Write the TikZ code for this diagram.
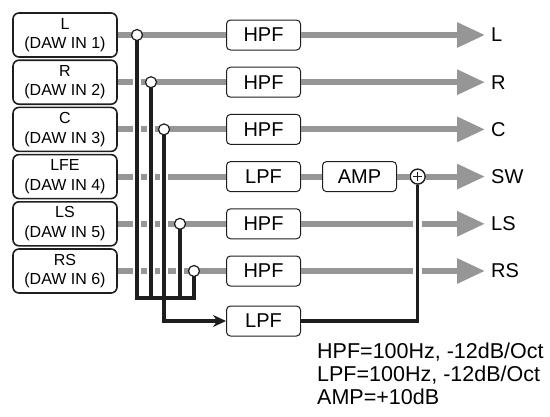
\documentclass[tikz,border=0pt]{standalone}
\usepackage{fontspec}
\setmainfont{Liberation Sans}
\usetikzlibrary{arrows.meta, positioning}
\definecolor{siggray}{RGB}{150,150,150}
\definecolor{busblack}{RGB}{30,30,30}

\begin{document}
\begin{tikzpicture}[x=1pt, y=-1pt,
    inbox/.style={draw=busblack, line width=1.6pt, rounded corners=6pt, minimum width=104pt,
      minimum height=44pt, inner sep=0pt, align=center, font=\fontsize{16}{19.5}\selectfont},
    filt/.style={draw=busblack, line width=1pt, rounded corners=4pt, minimum width=74pt,
      minimum height=30pt, inner sep=0pt, font=\fontsize{20}{22}\selectfont},
    outlbl/.style={anchor=west, inner sep=0pt, font=\fontsize{20}{22}\selectfont},
    sig/.style={draw=siggray, line width=6pt},
    sigarr/.style={sig, -{Triangle[length=28pt, width=24pt]}, shorten >=6pt},
    halo/.style={draw=white, line width=8.5pt},
    bus/.style={draw=busblack, line width=3.5pt},
    split/.style={circle, draw=busblack, fill=white, line width=1.2pt, minimum size=11pt, inner sep=0pt},
    sumnode/.style={circle, draw=busblack, fill=white, line width=1.4pt, minimum size=15pt, inner sep=0pt}]
  \useasboundingbox (0,0) rectangle (550,416);
  % inputs, filters, outputs
  \foreach \n/\iname/\ft/\oname in {1/L/HPF/L, 2/R/HPF/R, 3/C/HPF/C, 4/LFE/LPF/SW, 5/LS/HPF/LS, 6/RS/HPF/RS} {
    \node[inbox] (in\n) at (65, {35+47.2*(\n-1)}) {\iname\\(DAW IN \n)};
    \node[filt] (f\n) at (263.5, {35+47.2*(\n-1)}) {\ft};
    \node[outlbl] (out\n) at (491, {35+47.2*(\n-1)}) {\oname};
  }
  \node[filt, right=21pt of f4] (amp) {AMP};
  \node[sumnode, right=12.5pt of amp] (sum) {};
  \node[filt, below=19pt of f6] (lpf) {LPF};
  % split points and bus
  \foreach \n/\x in {1/137, 2/151, 3/164, 5/180, 6/194}
    \coordinate (s\n) at (\x, {35+47.2*(\n-1)});
  \coordinate (busl) at (137,298);
  \coordinate (busr) at (194,298);
  % gray signal lines
  \foreach \n in {1,...,6}
    \draw[sig] (in\n) -- (f\n);
  \foreach \n in {1,2,3,5,6}
    \draw[sigarr] (f\n) -- (out\n.west);
  \draw[sig] (f4) -- (amp);
  \draw[sig] (amp) -- (sum);
  \draw[sigarr] (sum) -- (out4.west);
  % white gaps under the black lines
  \draw[halo] (s1) -- (busl) -- (busr) -- (s6)
    (s2) -- (s2 |- busl) (s5) -- (s5 |- busl)
    (s3) |- (lpf.west) (sum) |- (lpf.east);
  % black lines
  \draw[bus] (s1) -- (busl) -- (busr) -- (s6);
  \draw[bus] (s2) -- (s2 |- busl);
  \draw[bus] (s5) -- (s5 |- busl);
  \draw[bus, -{Stealth[length=13pt, width=12pt]}] (s3) |- (lpf.west);
  \draw[bus] (sum) |- (lpf.east);
  \foreach \n in {1,2,3,5,6}
    \node[split] (d\n) at (s\n) {};
  \draw[busblack, line width=1.2pt] (sum.center) +(0,-4.5) -- +(0,4.5) +(-4.5,0) -- +(4.5,0);
  % settings
  \node[anchor=north west, align=left, inner sep=0pt, font=\fontsize{21.5}{23}\selectfont] (note)
    at (317,343) {HPF=100Hz, -12dB/Oct\\LPF=100Hz, -12dB/Oct\\AMP=+10dB};
\end{tikzpicture}
\end{document}
